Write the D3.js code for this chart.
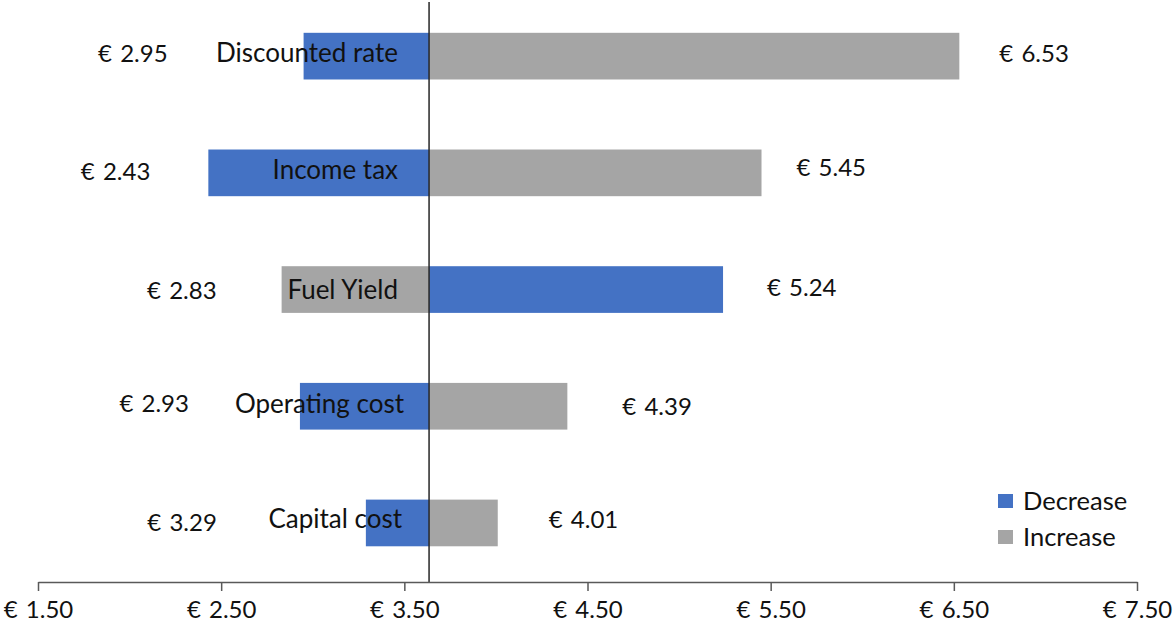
<!DOCTYPE html>
<html><head><meta charset="utf-8">
<script src="https://cdn.jsdelivr.net/npm/d3@7"></script>
<style>
html,body{margin:0;padding:0;background:#fff;}
svg{display:block;font-family:Lato,"Open Sans",sans-serif;}
</style></head><body>
<svg id="chart" width="1174" height="632"></svg>
<script>
// Sensitivity of the result to each input (tornado layout)
const categories = ["Discounted rate", "Income tax", "Fuel Yield", "Operating cost", "Capital cost"];
const decreaseValues = [2.95, 2.43, 5.24, 2.93, 3.29];
const increaseValues = [6.53, 5.45, 2.83, 4.39, 4.01];
const baseValue = 3.635;
const tickValues = [1.5, 2.5, 3.5, 4.5, 5.5, 6.5, 7.5];
const seriesNames = ["Decrease", "Increase"];

// Presentation settings
const seriesColors = ["#4472C4", "#A5A5A5"];
const lowLabelGap  = [136, 58, 65, 111, 149];   // px left of the lower bar end
const highLabelGap = [40, 35, 44, 55, 51];      // px right of the upper bar end
const lowLabelDy   = [-3, -1, 1, -3, -1];
const highLabelDy  = [-3, -5, -2, 0, -4];
const catLabelGap  = [31, 31, 31, 25, 27];
const catLabelDy   = [-4, -3, 0, -3, -4];

const axisY = 582;
const valueFont = 24, catFont = 26, legendFont = 25.5;
const capRatio = 0.72;
const textColor = "#111";
const euroGap = 2;

const svg = d3.select("#chart");
const x = d3.scaleLinear().domain([1.5, 7.5]).range([38, 1137]);
const y = d3.scaleBand().domain(categories).range([-2.2, 581.3]).paddingInner(0.6).paddingOuter(0.3);
const fmt = v => "€ " + d3.format(".2f")(v);

const rows = categories.map((c, i) => ({
  cat: c, i,
  dec: decreaseValues[i], inc: increaseValues[i]
}));

// bars: each series runs from the base value to its own value
const barData = [];
rows.forEach(r => {
  barData.push({cat: r.cat, v: r.dec, s: 0});
  barData.push({cat: r.cat, v: r.inc, s: 1});
});
svg.append("g").selectAll("rect").data(barData).join("rect")
  .attr("x", d => x(Math.min(d.v, baseValue)))
  .attr("width", d => Math.abs(x(d.v) - x(baseValue)))
  .attr("y", d => y(d.cat))
  .attr("height", y.bandwidth())
  .attr("fill", d => seriesColors[d.s]);

// category names, right-aligned just left of the base line
svg.append("g").selectAll("text").data(rows).join("text")
  .attr("x", d => x(baseValue) - catLabelGap[d.i])
  .attr("y", d => y(d.cat) + y.bandwidth() / 2 + catLabelDy[d.i] + catFont * capRatio / 2)
  .attr("text-anchor", "end")
  .attr("font-size", catFont)
  .attr("fill", textColor)
  .text(d => d.cat);

// value labels at both ends
const labelData = rows.map(r => {
  const lo = Math.min(r.dec, r.inc), hi = Math.max(r.dec, r.inc);
  return {r, lo, hi};
});
const lg = svg.append("g").attr("font-size", valueFont).attr("fill", textColor)
  .attr("word-spacing", euroGap);
lg.selectAll("text.lo").data(labelData).join("text").attr("class", "lo")
  .attr("x", d => x(d.lo) - lowLabelGap[d.r.i])
  .attr("y", d => y(d.r.cat) + y.bandwidth() / 2 + lowLabelDy[d.r.i] + valueFont * capRatio / 2)
  .attr("text-anchor", "end")
  .text(d => fmt(d.lo));
lg.selectAll("text.hi").data(labelData).join("text").attr("class", "hi")
  .attr("x", d => x(d.hi) + highLabelGap[d.r.i])
  .attr("y", d => y(d.r.cat) + y.bandwidth() / 2 + highLabelDy[d.r.i] + valueFont * capRatio / 2)
  .attr("text-anchor", "start")
  .text(d => fmt(d.hi));

// base line
svg.append("line")
  .attr("x1", x(baseValue)).attr("x2", x(baseValue))
  .attr("y1", 2).attr("y2", axisY)
  .attr("stroke", "#262626").attr("stroke-width", 1.5);

// value axis
const axis = svg.append("g").attr("transform", `translate(0,${axisY})`)
  .call(d3.axisBottom(x).tickValues(tickValues).tickSize(9).tickSizeOuter(0).tickFormat(fmt));
axis.select(".domain").attr("stroke", "#595959").attr("stroke-width", 1.5);
axis.selectAll(".tick line").attr("stroke", "#595959").attr("stroke-width", 1.5);
axis.selectAll(".tick text")
  .attr("font-family", "Lato, 'Open Sans', sans-serif")
  .attr("font-size", valueFont)
  .attr("word-spacing", euroGap)
  .attr("fill", textColor)
  .attr("dy", null)
  .attr("y", 609 - axisY + valueFont * capRatio / 2);

// legend
const leg = svg.append("g").selectAll("g").data(seriesNames).join("g")
  .attr("transform", (d, i) => `translate(998,${494 + i * 36})`);
leg.append("rect").attr("width", 15).attr("height", 14)
  .attr("fill", (d, i) => seriesColors[i]);
leg.append("text").attr("x", 25).attr("y", 7 + legendFont * capRatio / 2)
  .attr("font-size", legendFont).attr("fill", textColor)
  .text(d => d);
</script>
</body></html>
